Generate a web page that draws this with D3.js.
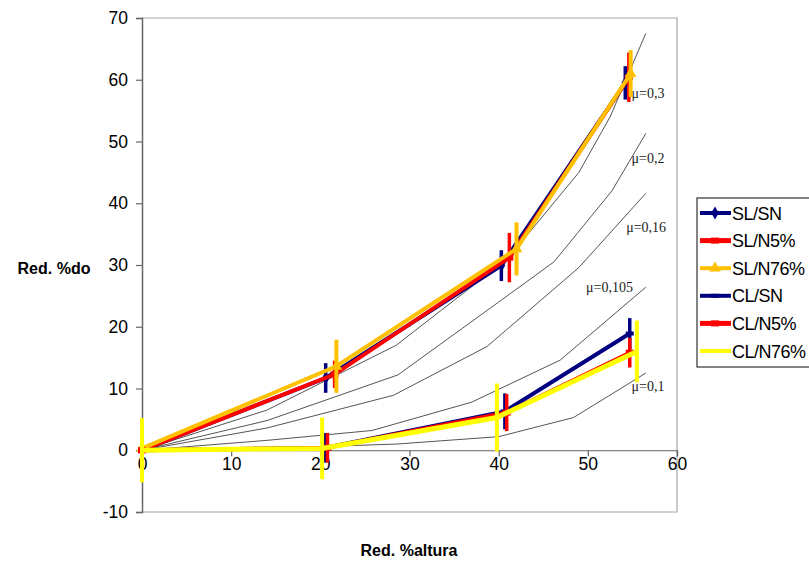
<!DOCTYPE html>
<html lang="es">
<head>
    <meta charset="utf-8">
    <style>
        body { margin: 0; background: #fff; }
        text { font-family: "Liberation Sans", Arial, sans-serif; }
        .mu { font-family: "Liberation Serif", "DejaVu Serif", serif; font-size: 14px; fill: #222; }
    </style>
    <script src="https://d3js.org/d3.v7.min.js"></script>
</head>
<body>
    <svg width="809" height="562"></svg>
    <script>
        // ---- data ----
        var seriesNames = ["SL/SN", "SL/N5%", "SL/N76%", "CL/SN", "CL/N5%", "CL/N76%"];
        var seriesColors = ["#000080", "#ff0000", "#ffc000", "#000080", "#ff0000", "#ffff00"];

        var slSnX = [0, 20.6, 40.3, 54.2],  slSnY = [0, 11.7, 29.9, 59.5],  slSnErr = [0, 2.4, 2.5, 2.7];
        var slN5X = [0, 21.6, 41.2, 54.6],  slN5Y = [0, 12.3, 31.2, 60.4],  slN5Err = [0, 2.2, 4.0, 4.0];
        var slN76X = [0, 21.8, 42.0, 54.8], slN76Y = [0.3, 13.6, 32.6, 61.0], slN76Err = [0, 4.3, 4.3, 3.8];
        var clSnX = [0, 20.6, 40.7, 54.7],  clSnY = [0, 0.4, 6.3, 18.9],  clSnErr = [0, 2.4, 2.9, 2.5];
        var clN5X = [0, 20.8, 40.9, 54.7],  clN5Y = [0, 0.4, 6.1, 15.8],  clN5Err = [0, 2.4, 3.0, 2.4];
        var clN76X = [0, 20.2, 39.8, 55.5], clN76Y = [0, 0.3, 5.3, 16.0], clN76Err = [5.2, 5.0, 5.5, 5.0];

        // friction curves (mu)
        var muNames = ["\u03bc=0,3", "\u03bc=0,2", "\u03bc=0,16", "\u03bc=0,105", "\u03bc=0,1"];
        var mu30X = [0, 14, 28.5, 41, 49, 52.5, 56.5],   mu30Y = [0, 6.5, 17, 31, 45, 54, 67.5];
        var mu20X = [0, 14, 28.7, 40, 46.2, 52.7, 56.5], mu20Y = [0, 4.8, 12.2, 24, 30.5, 42, 51.3];
        var mu16X = [0, 14, 28.2, 38.7, 49, 56.5],       mu16Y = [0, 3.6, 8.9, 16.8, 29.6, 41.6];
        var mu105X = [0, 14, 25.8, 37, 46.9, 56.5],      mu105Y = [0, 1.6, 3.2, 7.8, 14.6, 26.4];
        var mu10X = [0, 14, 28.5, 40, 48.4, 56.5],       mu10Y = [0, 0.3, 1.0, 2.2, 5.3, 12.5];
        var muLabelX = [54.9, 54.9, 54.3, 49.8, 54.9];
        var muLabelY = [57.0, 46.5, 35.3, 25.6, 9.6];

        var xTicks = [0, 10, 20, 30, 40, 50, 60];
        var yTicks = [-10, 0, 10, 20, 30, 40, 50, 60, 70];

        // ---- setup ----
        var svg = d3.select("svg");
        var x = d3.scaleLinear().domain([0, 60]).range([142, 677]);
        var y = d3.scaleLinear().domain([-10, 70]).range([512, 18]);

        function zip(xs, ys, es) {
            return xs.map(function(v, i) { return { x: v, y: ys[i], e: es ? es[i] : 0 }; });
        }

        var series = [
            zip(slSnX, slSnY, slSnErr), zip(slN5X, slN5Y, slN5Err), zip(slN76X, slN76Y, slN76Err),
            zip(clSnX, clSnY, clSnErr), zip(clN5X, clN5Y, clN5Err), zip(clN76X, clN76Y, clN76Err)
        ];
        var muCurves = [zip(mu30X, mu30Y), zip(mu20X, mu20Y), zip(mu16X, mu16Y), zip(mu105X, mu105Y), zip(mu10X, mu10Y)];

        // plot frame
        svg.append("path")
            .attr("d", "M" + x(0) + "," + y(70) + "H" + x(60) + "V" + y(-10) + "H" + x(0))
            .attr("fill", "none")
            .attr("stroke", "#a6a6a6")
            .attr("stroke-width", 1.2);

        // y axis
        var yAxis = svg.append("g")
            .attr("transform", "translate(" + x(0) + ",0)")
            .call(d3.axisLeft(y).tickValues(yTicks).tickSize(6).tickPadding(8)
                .tickFormat(function(d) { return String(d); }));
        yAxis.select(".domain").attr("stroke", "#666").attr("stroke-width", 1.5);
        yAxis.selectAll(".tick line").attr("stroke", "#666").attr("stroke-width", 1.2);
        yAxis.selectAll("text").attr("font-size", "17.5px").attr("fill", "#000")
            .style("font-family", "'Liberation Sans', Arial, sans-serif");

        // x axis at zero
        var xAxis = svg.append("g")
            .attr("transform", "translate(0," + y(0) + ")")
            .call(d3.axisBottom(x).tickValues(xTicks).tickSize(6).tickPadding(1));
        xAxis.select(".domain").attr("stroke", "#666").attr("stroke-width", 1.2);
        xAxis.selectAll(".tick line").attr("stroke", "#666").attr("stroke-width", 1.2);
        xAxis.selectAll("text").attr("font-size", "17.5px").attr("fill", "#000")
            .style("font-family", "'Liberation Sans', Arial, sans-serif");

        // mu curves
        var line = d3.line().x(function(d) { return x(d.x); }).y(function(d) { return y(d.y); });
        svg.append("g").selectAll("path")
            .data(muCurves)
            .enter().append("path")
            .attr("d", line)
            .attr("fill", "none")
            .attr("stroke", "#555")
            .attr("stroke-width", 1);

        svg.append("g").selectAll("text")
            .data(muNames)
            .enter().append("text")
            .attr("class", "mu")
            .attr("x", function(d, i) { return x(muLabelX[i]); })
            .attr("y", function(d, i) { return y(muLabelY[i]); })
            .text(function(d) { return d; });

        // series lines, error bars, markers
        var markerTypes = [d3.symbolDiamond, "rect", d3.symbolTriangle, "dash", "rect", null];

        function drawMarker(sel, i) {
            var t = markerTypes[i];
            if (t === null) return;
            if (t === "rect" || t === "dash") {
                sel.append("rect")
                    .attr("x", -4).attr("y", t === "dash" ? -2 : -3)
                    .attr("width", 8).attr("height", t === "dash" ? 4 : 6)
                    .attr("fill", seriesColors[i]);
            } else {
                sel.append("path")
                    .attr("d", d3.symbol().type(t).size(t === d3.symbolTriangle ? 60 : 50)())
                    .attr("fill", seriesColors[i]);
            }
        }

        series.forEach(function(s, i) {
            var g = svg.append("g");
            g.append("path")
                .attr("d", line(s))
                .attr("fill", "none")
                .attr("stroke", seriesColors[i])
                .attr("stroke-width", i === 5 ? 5 : 4);

            g.selectAll(".err")
                .data(s.filter(function(d) { return d.e > 0; }))
                .enter().append("line")
                .attr("class", "err")
                .attr("x1", function(d) { return x(d.x); })
                .attr("x2", function(d) { return x(d.x); })
                .attr("y1", function(d) { return y(d.y - d.e); })
                .attr("y2", function(d) { return y(d.y + d.e); })
                .attr("stroke", seriesColors[i])
                .attr("stroke-width", i === 2 || i === 5 ? 4 : 3.5);

            s.forEach(function(d) {
                var m = g.append("g").attr("transform", "translate(" + x(d.x) + "," + y(d.y) + ")");
                drawMarker(m, i);
            });
        });

        // axis titles
        svg.append("text")
            .attr("x", 54).attr("y", 274)
            .attr("text-anchor", "middle")
            .attr("font-size", "16px").attr("font-weight", "bold")
            .text("Red. %do");
        svg.append("text")
            .attr("x", 409).attr("y", 556)
            .attr("text-anchor", "middle")
            .attr("font-size", "16px").attr("font-weight", "bold")
            .text("Red. %altura");

        // legend
        var legend = svg.append("g").attr("transform", "translate(697,198)");
        legend.append("rect")
            .attr("x", 0).attr("y", 0)
            .attr("width", 130).attr("height", 169)
            .attr("fill", "#fff")
            .attr("stroke", "#333")
            .attr("stroke-width", 1.2);

        var items = legend.selectAll(".item")
            .data(seriesNames)
            .enter().append("g")
            .attr("class", "item")
            .attr("transform", function(d, i) { return "translate(0," + (15 + i * 27.6) + ")"; });

        items.append("line")
            .attr("x1", 3).attr("x2", 34)
            .attr("stroke", function(d, i) { return seriesColors[i]; })
            .attr("stroke-width", function(d, i) { return i === 1 || i === 4 ? 5 : 4; });

        items.each(function(d, i) {
            var m = d3.select(this).append("g").attr("transform", "translate(18,0)");
            drawMarker(m, i);
        });

        items.append("text")
            .attr("x", 35).attr("y", 6.5)
            .attr("font-size", "18px")
            .attr("letter-spacing", "-0.5px")
            .text(function(d) { return d; });
    </script>
</body>
</html>
